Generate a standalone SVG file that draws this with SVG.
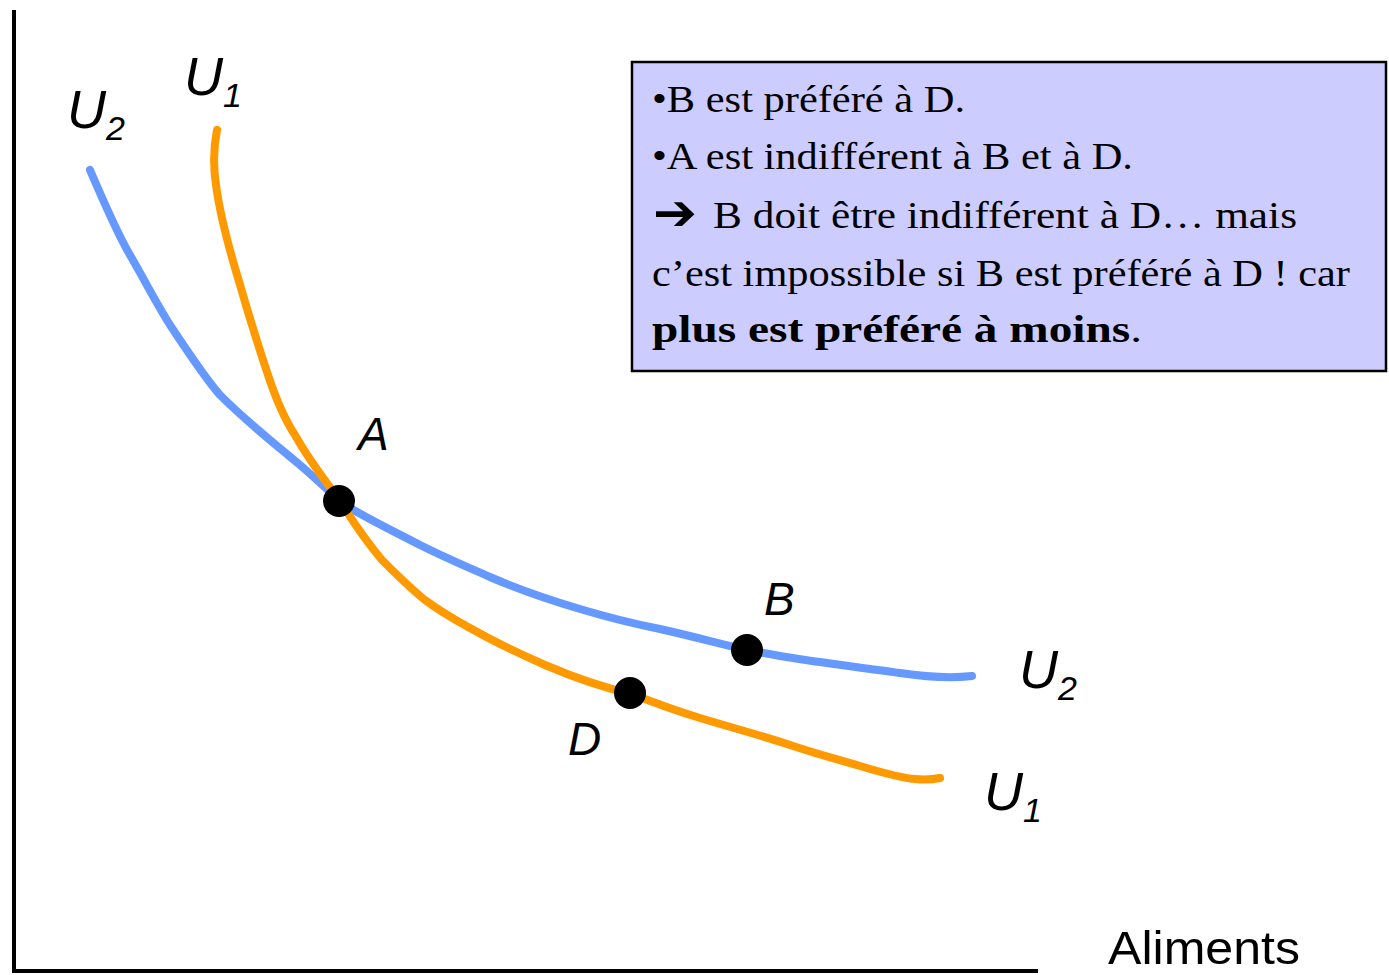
<svg xmlns="http://www.w3.org/2000/svg" width="1389" height="975" viewBox="0 0 1389 975">
<style>
.ax{stroke:#000;stroke-width:4;fill:none}
.crv{fill:none;stroke-width:8;stroke-linecap:round;stroke-linejoin:round}
.lbl{font-family:"Liberation Sans",Arial,sans-serif;font-style:italic;fill:#000}
.box{font-family:"Liberation Serif","Times New Roman",serif;font-size:37px;fill:#000}
.pt{fill:#000}
</style>
<rect width="1389" height="975" fill="#fff"/>
<g id="axes">
<line class="ax" x1="14" y1="10" x2="14" y2="973"/>
<line class="ax" x1="16" y1="971" x2="1038" y2="971"/>
<text x="1108" y="964" font-family="'Liberation Sans',Arial,sans-serif" font-size="46" textLength="192" lengthAdjust="spacingAndGlyphs">Aliments</text>
</g>
<g id="connectors">
<path id="U2curve" class="crv" stroke="#6699FF" d="M90,170 C105,205 118,235 130,255 C150,290 160,310 172,328 C190,355 205,378 220,395 C250,425 280,448 300,465 C320,482 330,493 345,505 C370,520 395,532 420,545 C450,560 470,568 490,577 C520,590 550,600 580,609 C610,618 640,625 660,629 C700,638 720,644 747,650 C780,656 800,660 820,662 C860,668 880,670 900,673 C920,676 945,679 972,676"/>
<path id="U1curve" class="crv" stroke="#FF9900" d="M217,130 C213,150 213,165 216,185 C220,215 228,245 238,278 C250,320 258,345 268,375 C278,405 285,420 295,435 C310,462 325,480 340,501 C355,525 365,540 382,560 C400,578 410,588 425,600 C445,615 460,622 470,628 C500,645 520,654 545,665 C580,680 605,688 632,694 C660,705 680,712 700,718 C740,730 770,738 790,745 C820,755 840,760 860,766 C880,772 900,778 915,779 C925,780 935,779 940,778"/>
</g>
<g id="A"><circle class="pt" cx="339" cy="501" r="16"/><text class="lbl" x="358" y="450" font-size="46">A</text></g>
<g id="B"><circle class="pt" cx="747" cy="650" r="16"/><text class="lbl" x="764" y="615" font-size="46">B</text></g>
<g id="D"><circle class="pt" cx="630" cy="693" r="16"/><text class="lbl" x="568" y="755" font-size="46">D</text></g>
<g id="U2top"><text class="lbl" x="67" y="128" font-size="54">U<tspan font-size="34" dy="12" dx="0">2</tspan></text></g>
<g id="U1top"><text class="lbl" x="184" y="95" font-size="54">U<tspan font-size="34" dy="12" dx="0">1</tspan></text></g>
<g id="U2right"><text class="lbl" x="1019" y="688" font-size="54">U<tspan font-size="34" dy="12" dx="0">2</tspan></text></g>
<g id="U1right"><text class="lbl" x="984" y="810" font-size="54">U<tspan font-size="34" dy="12" dx="0">1</tspan></text></g>
<g id="note">
<rect x="632" y="62" width="754" height="309" fill="#CCCCFF" stroke="#000" stroke-width="2.5"/>
<text class="box" x="652" y="112" textLength="313" lengthAdjust="spacingAndGlyphs">•B est préféré à D.</text>
<text class="box" x="652" y="169" textLength="481" lengthAdjust="spacingAndGlyphs">•A est indifférent à B et à D.</text>
<text x="653" y="230" font-family="'DejaVu Sans',sans-serif" font-size="50" font-weight="bold" textLength="44" lengthAdjust="spacingAndGlyphs">➔</text>
<text class="box" x="713" y="228" textLength="584" lengthAdjust="spacingAndGlyphs">B doit être indifférent à D… mais</text>
<text class="box" x="652" y="286" textLength="698" lengthAdjust="spacingAndGlyphs">c’est impossible si B est préféré à D ! car</text>
<text class="box" x="652" y="342" textLength="490" lengthAdjust="spacingAndGlyphs"><tspan font-weight="bold">plus est préféré à moins</tspan>.</text>
</g>
</svg>
